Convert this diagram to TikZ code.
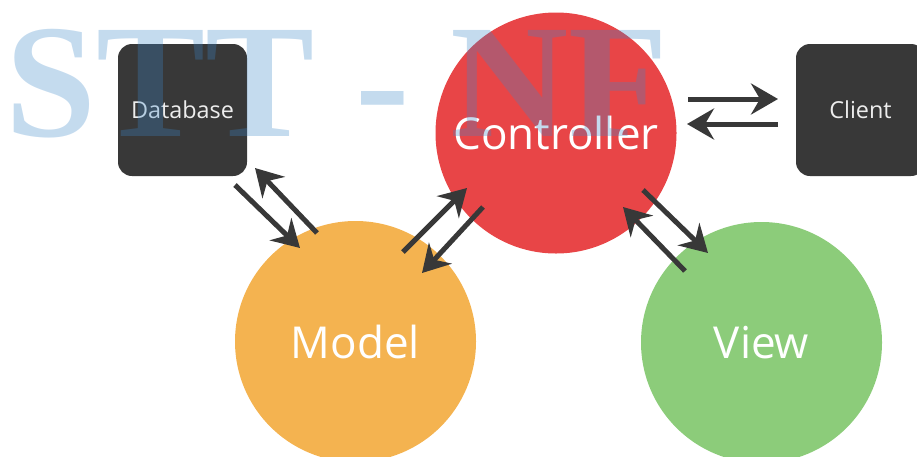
\documentclass[tikz,border=0pt]{standalone}
\usepackage{fontspec}
\setmainfont{Open Sans}
\newfontfamily\wmfont{Liberation Serif}
\usetikzlibrary{arrows.meta}
\definecolor{boxdark}{RGB}{56,56,56}
\definecolor{ctrlred}{RGB}{232,69,71}
\definecolor{modelorange}{RGB}{244,179,80}
\definecolor{viewgreen}{RGB}{140,204,122}
\definecolor{arrowdark}{RGB}{56,56,56}
\definecolor{wmblue}{RGB}{60,135,200}
\begin{document}
\begin{tikzpicture}[x=1pt,y=-1pt,
  darkbox/.style={fill=boxdark, rounded corners=14pt, minimum width=129pt, minimum height=132pt,
    text=white!93!black, font=\fontsize{23.4}{28}\selectfont, inner sep=0pt},
  bubble/.style={circle, minimum size=241pt, inner sep=0pt, text=white, font=\fontsize{44}{52}\selectfont},
  flow/.style={line width=5pt, draw=arrowdark, -{Stealth[length=27pt,width=31pt,inset=9pt]}},
  watermark/.style={font=\wmfont\bfseries\fontsize{162}{162}\selectfont, text=wmblue, text opacity=0.3,
    anchor=base west, inner sep=0pt, xscale=1.01}
]
\useasboundingbox (0,0) rectangle (917,456);
\clip (0,0) rectangle (917,456);
% nodes
\node[darkbox] (db) at (182.5,110) {Database};
\node[darkbox] (client) at (860.5,110) {Client};
\node[bubble, fill=ctrlred] (ctrl) at (556,133) {Controller};
\node[bubble, fill=modelorange] (model) at (355.5,341.5) {Model};
\node[bubble, fill=viewgreen] (view) at (761.5,342.5) {View};
% arrow end points
\coordinate (dbm-s) at (235,185);  \coordinate (dbm-e) at (300,248);
\coordinate (mdb-s) at (317,233);  \coordinate (mdb-e) at (255,168);
\coordinate (mc-s) at (403,252);   \coordinate (mc-e) at (467,188);
\coordinate (cm-s) at (483,207);   \coordinate (cm-e) at (422,273);
\coordinate (cv-s) at (643,190);   \coordinate (cv-e) at (708,253);
\coordinate (vc-s) at (685,271);   \coordinate (vc-e) at (623,207);
\coordinate (ccl-s) at (688,99);   \coordinate (ccl-e) at (778,99);
\coordinate (clc-s) at (778,124);  \coordinate (clc-e) at (687,124);
% connectors
\draw[flow] (dbm-s) -- (dbm-e);
\draw[flow] (mdb-s) -- (mdb-e);
\draw[flow] (mc-s) -- (mc-e);
\draw[flow] (cm-s) -- (cm-e);
\draw[flow] (cv-s) -- (cv-e);
\draw[flow] (vc-s) -- (vc-e);
\draw[flow] (ccl-s) -- (ccl-e);
\draw[flow] (clc-s) -- (clc-e);
% watermark
\node[watermark] (wm) at (5,136) {STT - NF};
\end{tikzpicture}
\end{document}
